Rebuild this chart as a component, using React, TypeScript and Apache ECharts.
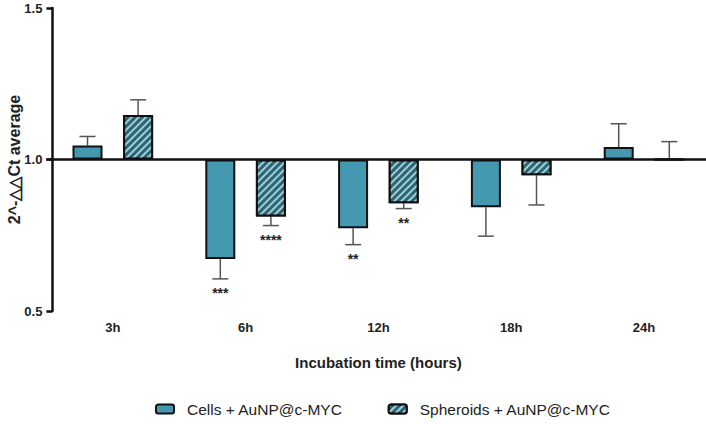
import React, { useEffect, useRef } from "react";
import * as echarts from "echarts";

const categories = ["3h", "6h", "12h", "18h", "24h"];
const cellsMean = [1.046, 0.672, 0.773, 0.842, 1.041];
const cellsErrEnd = [1.076, 0.606, 0.719, 0.747, 1.118];
const spherMean = [1.147, 0.812, 0.856, 0.948, 1.0];
const spherErrEnd = [1.197, 0.782, 0.838, 0.85, 1.059];
const cellsStars = ["", "***", "**", "", ""];
const spherStars = ["", "****", "**", "", ""];
const yTicks = [0.5, 1.0, 1.5];
const baseline = 1.0;

const FONT = "'Liberation Sans', Arial, sans-serif";
const BAR_W = 30;
const GAP = 20.6;
const HALF = (BAR_W + GAP) / 2;

function errorSeries(name: string, means: number[], ends: number[], stars: string[], dx: number) {
  return {
    type: "custom",
    name,
    z: 1,
    silent: true,
    data: means.map((m, i) => [i, m - baseline, ends[i] - baseline]),
    encode: { x: 0, y: [1, 2] },
    renderItem: (params: any, api: any) => {
      const ci = api.value(0);
      const p0 = api.coord([ci, api.value(1)]);
      const p1 = api.coord([ci, api.value(2)]);
      const x = p0[0] + dx;
      const down = p1[1] > p0[1];
      const children: any[] = [
        { type: "line", shape: { x1: x, y1: p0[1], x2: x, y2: p1[1] }, style: { stroke: "#555", lineWidth: 1.5 } },
        { type: "line", shape: { x1: x - 8, y1: p1[1], x2: x + 8, y2: p1[1] }, style: { stroke: "#555", lineWidth: 1.5 } },
      ];
      const s = stars[params.dataIndex];
      if (s) {
        children.push({
          type: "text",
          x,
          y: p1[1] + (down ? 14 : -14),
          style: { text: s, fill: "#222", font: `bold 14px ${FONT}`, align: "center", verticalAlign: "middle" },
        });
      }
      return { type: "group", children };
    },
  };
}

export default function App() {
  const ref = useRef<HTMLDivElement>(null);
  useEffect(() => {
    if (!ref.current) return;
    const chart = echarts.init(ref.current, undefined, { renderer: "svg" });
    chart.setOption({
      animation: false,
      backgroundColor: "#ffffff",
      textStyle: { fontFamily: FONT },
      grid: { left: 46.4, top: 8, width: 664, height: 303, containLabel: false, outerBoundsMode: "none" },
      legend: {
        left: 155,
        top: 401,
        padding: 0,
        itemWidth: 18,
        itemHeight: 9,
        itemGap: 45,
        textStyle: { fontSize: 15.5, color: "#222", fontFamily: FONT, padding: [0, 0, 0, 8] },
        data: ["Cells + AuNP@c-MYC", "Spheroids + AuNP@c-MYC"],
      },
      xAxis: {
        type: "category",
        data: categories,
        axisLine: { show: false },
        axisTick: { show: false },
        axisLabel: { fontWeight: "bold", fontSize: 13, color: "#222", margin: 10, fontFamily: FONT },
        name: "Incubation time (hours)",
        nameLocation: "middle",
        nameGap: 44,
        nameMoveOverlap: false,
        nameTextStyle: { fontWeight: "bold", fontSize: 15, color: "#222", fontFamily: FONT },
      },
      yAxis: {
        type: "value",
        min: yTicks[0] - baseline,
        max: yTicks[yTicks.length - 1] - baseline,
        interval: yTicks[1] - yTicks[0],
        offset: -6,
        splitLine: { show: false },
        axisLine: { show: true, lineStyle: { color: "#111", width: 2.5 } },
        axisTick: { show: true, length: 6, lineStyle: { color: "#111", width: 2.5 } },
        axisLabel: {
          fontWeight: "bold",
          fontSize: 13,
          color: "#222",
          margin: 10,
          fontFamily: FONT,
          formatter: (v: number) => (v + baseline).toFixed(1),
        },
        name: "2^-△△Ct average",
        nameLocation: "middle",
        nameGap: 30,
        nameMoveOverlap: false,
        nameTextStyle: { fontWeight: "bold", fontSize: 16, color: "#222", fontFamily: FONT },
      },
      series: [
        errorSeries("cellsErr", cellsMean, cellsErrEnd, cellsStars, -HALF),
        errorSeries("spherErr", spherMean, spherErrEnd, spherStars, HALF),
        {
          type: "bar",
          name: "Cells + AuNP@c-MYC",
          z: 2,
          barWidth: BAR_W,
          barGap: `${(GAP / BAR_W) * 100}%`,
          data: cellsMean.map((v) => +(v - baseline).toFixed(4)),
          itemStyle: { color: "#4499b0", borderColor: "#111", borderWidth: 2 },
          markLine: {
            silent: true,
            symbol: "none",
            label: { show: false },
            lineStyle: { color: "#111", width: 2.5, type: "solid" },
            data: [{ yAxis: 0 }],
            z: 5,
          },
        },
        {
          type: "bar",
          name: "Spheroids + AuNP@c-MYC",
          z: 2,
          barWidth: BAR_W,
          data: spherMean.map((v) => +(v - baseline).toFixed(4)),
          itemStyle: {
            color: "#2c6674",
            borderColor: "#111",
            borderWidth: 2,
            decal: {
              symbol: "rect",
              symbolSize: 1,
              color: "rgba(175,215,226,0.9)",
              dashArrayX: [1, 0],
              dashArrayY: [1.6, 2.4],
              rotation: -Math.PI / 4,
            },
          },
        },
      ],
    });
    return () => chart.dispose();
  }, []);
  return <div ref={ref} style={{ position: "fixed", left: 0, top: 0, width: 706, height: 424 }} />;
}
